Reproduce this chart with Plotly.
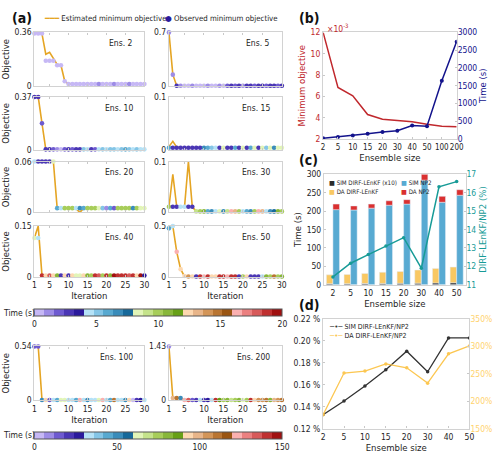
import plotly.graph_objects as go

W, H = 500, 461
FONT = "Liberation Sans Narrow, DejaVu Sans Condensed, Arial Narrow, Liberation Sans, sans-serif"
TXT = "#1e1e1e"
ORANGE = "#e5a524"

# ---------------- data: panel (a) ----------------
iterations = list(range(1, 31))

obs_e2 = [0.353, 0.353, 0.353, 0.170, 0.170, 0.170, 0.140, 0.140, 0.033, 0.015,
          0.015, 0.015, 0.015, 0.015, 0.015, 0.015, 0.015, 0.015, 0.015, 0.015,
          0.015, 0.015, 0.015, 0.015, 0.015, 0.015, 0.015, 0.015, 0.015, 0.015]
est_e2 = [0.353, 0.365, 0.350, 0.214, 0.227, 0.190, 0.146, 0.140, 0.033, 0.015,
          0.015, 0.015, 0.015, 0.015, 0.015, 0.015, 0.015, 0.015, 0.015, 0.015,
          0.015, 0.015, 0.015, 0.015, 0.015, 0.015, 0.015, 0.015, 0.015, 0.015]
time_e2 = [0.3, 0.3, 0.3, 0.3, 0.3, 0.3, 0.3, 0.3, 0.3, 0.3,
           0.3, 0.3, 0.3, 0.3, 0.3, 0.3, 0.3, 1.0, 0.3, 0.3,
           0.3, 1.0, 0.3, 0.3, 0.3, 1.0, 0.3, 0.3, 0.3, 0.3]

obs_e5 = [0.700, 0.150, 0.005, 0.005, 0.005, 0.005, 0.005, 0.005, 0.005, 0.005,
          0.005, 0.005, 0.005, 0.005, 0.005, 0.005, 0.005, 0.005, 0.005, 0.005,
          0.005, 0.005, 0.005, 0.005, 0.005, 0.005, 0.005, 0.005, 0.005, 0.005]
est_e5 = [0.700, 0.150, 0.005, 0.005, 0.005, 0.005, 0.005, 0.005, 0.005, 0.005,
          0.005, 0.005, 0.005, 0.005, 0.005, 0.005, 0.005, 0.005, 0.005, 0.005,
          0.005, 0.005, 0.005, 0.005, 0.005, 0.005, 0.005, 0.005, 0.005, 0.005]
time_e5 = [1.2, 1.2, 2.8, 1.2, 0.3, 0.3, 1.2, 0.3, 0.3, 0.3,
           1.2, 0.3, 0.3, 1.2, 0.3, 2.0, 2.8, 2.0, 2.8, 1.2,
           2.8, 2.8, 2.0, 2.8, 2.8, 2.0, 2.8, 2.8, 2.0, 2.8]

obs_e10 = [0.370, 0.370, 0.185, 0.003, 0.003, 0.003, 0.003, 0.003, 0.003, 0.003,
           0.003, 0.003, 0.003, 0.003, 0.003, 0.003, 0.003, 0.003, 0.003, 0.003,
           0.003, 0.003, 0.003, 0.003, 0.003, 0.003, 0.003, 0.003, 0.003, 0.003]
est_e10 = [0.370, 0.372, 0.185, 0.003, 0.003, 0.003, 0.003, 0.003, 0.003, 0.003,
           0.003, 0.003, 0.003, 0.003, 0.003, 0.003, 0.003, 0.003, 0.003, 0.003,
           0.003, 0.003, 0.003, 0.003, 0.003, 0.003, 0.003, 0.003, 0.003, 0.003]
time_e10 = [2.8, 2.8, 2.0, 2.8, 2.4, 2.0, 1.2, 0.4, 2.0, 2.8,
            2.0, 2.4, 2.8, 5.2, 4.4, 2.8, 2.0, 4.4, 5.2, 4.4,
            5.2, 5.2, 4.4, 5.2, 6.0, 5.2, 4.4, 5.2, 4.4, 4.4]

obs_e15 = [0.004, 0.004, 0.004, 0.004, 0.004, 0.004, 0.004, 0.004, 0.004, 0.004,
           0.004, 0.004, 0.004, 0.004, 0.004, 0.004, 0.004, 0.004, 0.004, 0.004,
           0.004, 0.004, 0.004, 0.004, 0.004, 0.004, 0.004, 0.004, 0.004, 0.004]
est_e15 = [0.006, 0.016, 0.005, 0.004, 0.004, 0.004, 0.004, 0.004, 0.004, 0.004,
           0.004, 0.004, 0.004, 0.004, 0.004, 0.004, 0.004, 0.004, 0.004, 0.004,
           0.004, 0.004, 0.004, 0.004, 0.004, 0.004, 0.004, 0.004, 0.004, 0.004]
time_e15 = [6.0, 2.4, 2.4, 2.4, 2.4, 2.4, 2.4, 2.4, 2.4, 6.8,
            6.0, 5.2, 4.4, 2.4, 8.4, 2.4, 2.4, 6.0, 2.8, 8.4,
            2.4, 6.0, 8.4, 2.4, 8.4, 5.2, 8.4, 6.8, 8.4, 8.4]

obs_e20 = [0.060, 0.060, 0.060, 0.060, 0.060, 0.060, 0.005, 0.005, 0.005, 0.005,
           0.005, 0.005, 0.005, 0.005, 0.005, 0.005, 0.005, 0.005, 0.005, 0.005,
           0.005, 0.005, 0.005, 0.005, 0.005, 0.005, 0.005, 0.005, 0.005, 0.005]
est_e20 = [0.060, 0.060, 0.060, 0.060, 0.060, 0.060, 0.005, 0.005, 0.005, 0.005,
           0.005, 0.004, 0.000, 0.005, 0.005, 0.005, 0.005, 0.005, 0.005, 0.005,
           0.005, 0.005, 0.005, 0.005, 0.005, 0.005, 0.005, 0.005, 0.005, 0.005]
time_e20 = [4.4, 2.8, 2.8, 2.8, 2.8, 8.4, 6.0, 4.4, 10.0, 10.0,
            10.0, 4.4, 6.8, 6.0, 10.0, 10.0, 10.0, 8.4, 5.2, 1.2,
            6.0, 2.0, 10.0, 10.0, 10.0, 10.0, 6.8, 10.0, 8.4, 8.4]

obs_e30 = [0.011, 0.011, 0.011, 0.011, 0.011, 0.011, 0.011, 0.002, 0.002, 0.002,
           0.002, 0.002, 0.002, 0.002, 0.002, 0.002, 0.002, 0.002, 0.002, 0.002,
           0.002, 0.002, 0.002, 0.002, 0.002, 0.002, 0.002, 0.002, 0.002, 0.002]
est_e30 = [0.011, 0.075, 0.011, 0.011, 0.011, 0.100, 0.011, 0.002, 0.002, 0.002,
           0.002, 0.002, 0.002, 0.002, 0.002, 0.002, 0.002, 0.002, 0.002, 0.002,
           0.002, 0.002, 0.002, 0.002, 0.002, 0.002, 0.002, 0.002, 0.002, 0.002]
time_e30 = [10.0, 2.4, 2.4, 4.4, 4.4, 2.8, 2.8, 9.2, 10.0, 10.8,
            6.0, 6.8, 4.4, 8.4, 6.8, 9.2, 16.4, 13.2, 10.0, 4.4,
            6.0, 6.8, 10.0, 16.4, 13.2, 4.4, 6.8, 7.6, 10.8, 10.0]

obs_e40 = [0.115, 0.115, 0.004, 0.004, 0.004, 0.004, 0.004, 0.004, 0.004, 0.004,
           0.004, 0.004, 0.004, 0.004, 0.004, 0.004, 0.004, 0.004, 0.004, 0.004,
           0.004, 0.004, 0.004, 0.004, 0.004, 0.004, 0.004, 0.004, 0.004, 0.004]
est_e40 = [0.115, 0.150, 0.004, 0.004, 0.004, 0.004, 0.004, 0.004, 0.004, 0.004,
           0.004, 0.004, 0.004, 0.004, 0.004, 0.004, 0.004, 0.004, 0.004, 0.004,
           0.004, 0.004, 0.004, 0.004, 0.004, 0.004, 0.004, 0.004, 0.004, 0.004]
time_e40 = [8.4, 4.4, 18.8, 12.4, 18.0, 12.4, 10.8, 2.4, 12.4, 2.8,
            12.4, 8.4, 8.4, 12.4, 10.8, 10.0, 18.8, 18.0, 10.0, 18.8,
            10.8, 19.6, 18.8, 18.8, 18.8, 18.0, 18.8, 12.4, 19.6, 3.6]

obs_e50 = [0.478, 0.500, 0.247, 0.077, 0.010, 0.004, 0.004, 0.004, 0.004, 0.004,
           0.004, 0.004, 0.004, 0.004, 0.004, 0.004, 0.004, 0.004, 0.004, 0.004,
           0.004, 0.004, 0.004, 0.004, 0.004, 0.004, 0.004, 0.004, 0.004, 0.004]
est_e50 = [0.478, 0.500, 0.247, 0.077, 0.005, 0.004, 0.004, 0.004, 0.004, 0.004,
           0.004, 0.004, 0.004, 0.004, 0.004, 0.004, 0.004, 0.004, 0.004, 0.004,
           0.004, 0.004, 0.004, 0.004, 0.004, 0.004, 0.004, 0.004, 0.004, 0.004]
time_e50 = [6.0, 4.4, 16.4, 12.4, 12.4, 14.0, 12.4, 2.4, 18.8, 16.4,
            18.8, 12.4, 12.4, 18.8, 18.8, 16.4, 18.8, 18.8, 2.8, 10.0,
            12.4, 2.4, 2.8, 2.4, 4.4, 10.8, 10.0, 14.8, 10.0, 10.8]

obs_e100 = [0.540, 0.540, 0.003, 0.003, 0.003, 0.003, 0.003, 0.003, 0.003, 0.003,
            0.003, 0.003, 0.003, 0.003, 0.003, 0.003, 0.003, 0.003, 0.003, 0.003,
            0.003, 0.003, 0.003, 0.003, 0.003, 0.003, 0.003, 0.003, 0.003, 0.003]
est_e100 = [0.540, 0.545, 0.003, 0.003, 0.003, 0.003, 0.003, 0.003, 0.003, 0.003,
            0.003, 0.003, 0.003, 0.003, 0.003, 0.003, 0.003, 0.003, 0.003, 0.003,
            0.003, 0.003, 0.003, 0.003, 0.003, 0.003, 0.003, 0.003, 0.003, 0.003]
time_e100 = [15, 15, 51, 93, 15, 33, 45, 63, 63, 33,
             33, 45, 123, 33, 51, 33, 33, 63, 123, 33,
             45, 111, 33, 33, 51, 93, 3, 21, 27, 33]

obs_e200 = [1.430, 0.060, 0.060, 0.060, 0.005, 0.005, 0.005, 0.005, 0.005, 0.005,
            0.005, 0.005, 0.005, 0.005, 0.005, 0.005, 0.005, 0.005, 0.005, 0.005,
            0.005, 0.005, 0.005, 0.005, 0.005, 0.005, 0.005, 0.005, 0.005, 0.005]
est_e200 = [1.430, 0.060, 0.060, 0.050, 0.005, 0.005, 0.005, 0.005, 0.005, 0.005,
            0.005, 0.005, 0.005, 0.005, 0.005, 0.005, 0.005, 0.005, 0.005, 0.005,
            0.005, 0.005, 0.005, 0.005, 0.005, 0.005, 0.005, 0.005, 0.005, 0.005]
time_e200 = [9, 99, 111, 51, 123, 135, 15, 21, 33, 21,
             27, 33, 141, 87, 75, 81, 69, 75, 81, 63,
             75, 141, 93, 105, 105, 111, 81, 99, 105, 111]

ens_names = ["Ens. 2", "Ens. 5", "Ens. 10", "Ens. 15", "Ens. 20",
             "Ens. 30", "Ens. 40", "Ens. 50", "Ens. 100", "Ens. 200"]
ymax_vals = [0.36, 0.7, 0.37, 0.1, 0.06, 0.1, 0.15, 0.5, 0.54, 1.43]
ymax_text = ["0.36", "0.7", "0.37", "0.1", "0.06", "0.1", "0.15", "0.5", "0.54", "1.43"]
iter_ticks = [1, 5, 10, 15, 20, 25, 30]
time_ticks_1 = [0, 5, 10, 15, 20]
time_ticks_2 = [0, 50, 100, 150]

# ---------------- data: panel (b) ----------------
ens_b = ["2", "5", "10", "15", "20", "30", "40", "50", "100", "200"]
min_obj_e3 = [12.0, 6.83, 6.06, 4.30, 3.85, 3.75, 3.63, 3.38, 3.20, 3.14]
time_b = [25, 60, 100, 150, 200, 235, 380, 360, 1640, 2740]

# ---------------- data: panel (c) ----------------
ens_c = ["2", "5", "10", "15", "20", "30", "40", "50"]
sim_dirf_x10 = [3.0, 3.0, 3.5, 3.8, 4.0, 4.5, 5.0, 5.5]
da_dirf = [24.0, 25.0, 27.5, 30.2, 32.0, 35.5, 39.5, 42.5]
sim_np2 = [204, 203, 208, 216, 219, 284, 224, 243]
da_np2 = [15, 11, 11, 12, 12, 16, 16, 15]
ratio_c = [11.43, 12.17, 12.64, 13.10, 13.56, 11.90, 16.32, 16.60]

# ---------------- data: panel (d) ----------------
ens_d = ["2", "5", "10", "15", "20", "30", "40", "50"]
sim_ratio = [0.1328, 0.1452, 0.1589, 0.1737, 0.1906, 0.1719, 0.2028, 0.2028]
da_ratio = [175.5, 251.5, 255.0, 268.0, 261.0, 233.0, 286.5, 301.0]

# ---------------- helpers ----------------
def fx(px):
    return px / W

def fy(py):
    return 1 - py / H

time_colors = ["#c6b8f5", "#9d8ce6", "#6e5ad0", "#4a36b5", "#2b1a9c",
               "#b5e2f7", "#84c5e6", "#58a9d0", "#3a8cba", "#17699a",
               "#e2f5b8", "#c5e38b", "#a7cd5a", "#88b73a", "#67a017",
               "#fdd8b0", "#e8b589", "#d39558", "#b97532", "#9a5512",
               "#fbb0b0", "#eb8080", "#d75a5a", "#bf3030", "#a01010"]
n = len(time_colors)
cscale = []
for i, c in enumerate(time_colors):
    cscale.append([i / n, c])
    cscale.append([(i + 1) / n, c])

TICK = 8.5
TITLE = 9.5
GLYPH = "font-family:DejaVu Sans"

def base_axis(**kw):
    d = dict(showline=True, linecolor="#d2d2d2", linewidth=1.3, mirror=True,
             ticks="inside", ticklen=2, tickcolor="#c8c8c8", showgrid=False,
             zeroline=False, tickfont=dict(size=TICK, color=TXT, family=FONT))
    d.update(kw)
    return d

def tfont(size=TITLE, color=TXT):
    return dict(size=size, color=color, family=FONT)

fig = go.Figure()
layout = {}
annotations = []

obs_all = [obs_e2, obs_e5, obs_e10, obs_e15, obs_e20, obs_e30, obs_e40, obs_e50, obs_e100, obs_e200]
est_all = [est_e2, est_e5, est_e10, est_e15, est_e20, est_e30, est_e40, est_e50, est_e100, est_e200]
time_all = [time_e2, time_e5, time_e10, time_e15, time_e20, time_e30, time_e40, time_e50, time_e100, time_e200]

cols = [(33, 145), (170, 285)]
rows = [(28, 83), (94, 148), (160, 212), (226, 278), (349, 404)]

for k in range(10):
    idx = k + 1
    col, row = k % 2, k // 2
    xs = "x" if idx == 1 else f"x{idx}"
    ys = "y" if idx == 1 else f"y{idx}"
    cax = "coloraxis" if k < 8 else "coloraxis2"
    fig.add_trace(go.Scatter(x=iterations, y=est_all[k], mode="lines",
                             line=dict(color=ORANGE, width=1.6),
                             xaxis=xs, yaxis=ys, showlegend=False, hoverinfo="skip"))
    fig.add_trace(go.Scatter(x=iterations, y=obs_all[k], mode="markers",
                             marker=dict(color=time_all[k], coloraxis=cax, size=4.6,
                                         line=dict(width=0)),
                             xaxis=xs, yaxis=ys, showlegend=False, cliponaxis=False))
    x0, x1 = cols[col]
    y0, y1 = rows[row]
    show_x = row >= 3
    xa = base_axis(domain=[fx(x0), fx(x1)], anchor=ys, range=[1, 30], tickangle=0,
                   tickvals=iter_ticks, showticklabels=show_x, mirror="ticks")
    if show_x:
        xa["title"] = dict(text="Iteration", font=tfont(), standoff=2)
    ya = base_axis(domain=[fy(y1), fy(y0)], anchor=xs, range=[0, ymax_vals[k]],
                   tickvals=[0, ymax_vals[k]], ticktext=["0", ymax_text[k]], ticks="")
    if col == 0:
        ya["title"] = dict(text="Objective", font=tfont(), standoff=3)
    layout["xaxis" if idx == 1 else f"xaxis{idx}"] = xa
    layout["yaxis" if idx == 1 else f"yaxis{idx}"] = ya
    annotations.append(dict(text=ens_names[k], x=fx(x1 - 10), y=fy(y0 + 4), xref="paper", yref="paper",
                            xanchor="right", yanchor="top", showarrow=False,
                            font=tfont(8.5)))

# ---------------- panel (b) ----------------
RED = "#c0282d"
NAVY = "#13138c"
fig.add_trace(go.Scatter(x=ens_b, y=min_obj_e3, mode="lines", line=dict(color=RED, width=1.5),
                         xaxis="x11", yaxis="y11", showlegend=False))
fig.add_trace(go.Scatter(x=ens_b, y=time_b, mode="lines+markers", line=dict(color=NAVY, width=1.5),
                         marker=dict(size=4, color=NAVY), xaxis="x11", yaxis="y12", showlegend=False))
layout["xaxis11"] = base_axis(domain=[fx(327), fx(463)], anchor="y11", type="category",
                              categoryorder="array", categoryarray=ens_b, range=[0, 9], tickangle=0,
                              tickfont=tfont(8),
                              title=dict(text="Ensemble size", font=tfont(), standoff=2))
layout["yaxis11"] = base_axis(domain=[fy(137), fy(28)], anchor="x11", range=[2, 12], dtick=2,
                              tickfont=tfont(TICK, RED),
                              title=dict(text="Minimum objective", font=tfont(TITLE, RED), standoff=3))
layout["yaxis12"] = base_axis(overlaying="y11", side="right", anchor="x11", range=[0, 3000], dtick=500,
                              showline=False, tickfont=tfont(TICK, NAVY),
                              title=dict(text="Time (s)", font=tfont(TITLE, NAVY), standoff=3))
annotations.append(dict(text="×10<sup>-3</sup>", x=fx(329), y=fy(23), xref="paper", yref="paper",
                        xanchor="left", yanchor="middle", showarrow=False,
                        font=tfont(8.5, RED)))

# ---------------- panel (c) ----------------
C_BLACK, C_YEL, C_BLUE, C_RED, TEAL = "#2b2b2b", "#f9c862", "#58aad2", "#da3030", "#179b97"
fig.add_trace(go.Bar(x=ens_c, y=sim_dirf_x10, offsetgroup="dirf", marker_color=C_BLACK,
                     name="SIM DIRF-LEnKF (x10)", xaxis="x12", yaxis="y13", showlegend=False))
fig.add_trace(go.Bar(x=ens_c, y=da_dirf, base=sim_dirf_x10, offsetgroup="dirf", marker_color=C_YEL,
                     name="DA DIRF-LEnKF", xaxis="x12", yaxis="y13", showlegend=False))
fig.add_trace(go.Bar(x=ens_c, y=sim_np2, offsetgroup="np2", marker_color=C_BLUE,
                     name="SIM NP2", xaxis="x12", yaxis="y13", showlegend=False))
fig.add_trace(go.Bar(x=ens_c, y=da_np2, base=sim_np2, offsetgroup="np2", marker_color=C_RED,
                     name="DA NP2", xaxis="x12", yaxis="y13", showlegend=False))
fig.add_trace(go.Scatter(x=ens_c, y=ratio_c, mode="lines+markers", line=dict(color=TEAL, width=1.5),
                         marker=dict(size=3.5, color=TEAL), xaxis="x12", yaxis="y14", showlegend=False))
layout["xaxis12"] = base_axis(domain=[fx(328), fx(472)], anchor="y13", type="category",
                              categoryorder="array", categoryarray=ens_c, range=[-0.5, 7.5], ticks="",
                              tickangle=0,
                              title=dict(text="Ensemble size", font=tfont(), standoff=2))
layout["yaxis13"] = base_axis(domain=[fy(286), fy(173)], anchor="x12", range=[0, 300], dtick=50,
                              title=dict(text="Time (s)", font=tfont(), standoff=3))
layout["yaxis14"] = base_axis(overlaying="y13", side="right", anchor="x12", range=[11, 17], dtick=1,
                              showline=False, tickfont=tfont(TICK, TEAL),
                              title=dict(text="DIRF-LEnKF/NP2 (%)", font=tfont(TITLE, TEAL), standoff=3))
leg_c = [("SIM DIRF-LEnKF (x10)", C_BLACK, 331, 181.5), ("SIM NP2", C_BLUE, 404, 181.5),
         ("DA DIRF-LEnKF", C_YEL, 331, 190.5), ("DA NP2", C_RED, 404, 190.5)]
for t, c, lx, ly in leg_c:
    annotations.append(dict(text=f"<span style='color:{c};{GLYPH}'>■</span> {t}", x=fx(lx), y=fy(ly),
                            xref="paper", yref="paper", xanchor="left", yanchor="middle",
                            showarrow=False, font=tfont(6.2)))

# ---------------- panel (d) ----------------
D_BLACK, D_YEL = "#333333", "#fcc752"
fig.add_trace(go.Scatter(x=ens_d, y=sim_ratio, mode="lines+markers", line=dict(color=D_BLACK, width=1.3),
                         marker=dict(size=3.5, color=D_BLACK), xaxis="x13", yaxis="y15", showlegend=False))
fig.add_trace(go.Scatter(x=ens_d, y=da_ratio, mode="lines+markers", line=dict(color=D_YEL, width=1.3),
                         marker=dict(size=3.5, color=D_YEL), xaxis="x13", yaxis="y16", showlegend=False))
left_d_ticks = [0.12, 0.14, 0.16, 0.18, 0.20, 0.22]
layout["xaxis13"] = base_axis(domain=[fx(327), fx(476)], anchor="y15", type="category",
                              categoryorder="array", categoryarray=ens_d, range=[0, 7], tickangle=0,
                              title=dict(text="Ensemble size", font=tfont(), standoff=2))
layout["yaxis15"] = base_axis(domain=[fy(433), fy(321)], anchor="x13", range=[0.12, 0.22],
                              tickvals=left_d_ticks, ticktext=[f"{v:.2f} %" for v in left_d_ticks])
layout["yaxis16"] = base_axis(overlaying="y15", side="right", anchor="x13", range=[150, 350], dtick=50,
                              ticksuffix="%", showline=False, tickfont=tfont(TICK, "#ffd36e"))
for t, c, ly in [("SIM DIRF-LEnKF/NP2", D_BLACK, 329), ("DA DIRF-LEnKF/NP2", D_YEL, 338)]:
    annotations.append(dict(text=f"<span style='color:{c};{GLYPH}'>─•─</span> {t}", x=fx(331), y=fy(ly),
                            xref="paper", yref="paper", xanchor="left", yanchor="middle",
                            showarrow=False, font=tfont(7)))

# ---------------- legend (a), panel labels, colorbar label ----------------
annotations.append(dict(text=f"<span style='color:{ORANGE};{GLYPH}'>━━━</span> Estimated minimum objective",
                        x=fx(41), y=fy(14), xref="paper", yref="paper", xanchor="left", yanchor="middle",
                        showarrow=False, font=tfont(7.8)))
annotations.append(dict(text=f"<span style='color:#2b1a9c;{GLYPH}'>●</span> Observed minimum objective",
                        x=fx(164), y=fy(14), xref="paper", yref="paper", xanchor="left", yanchor="middle",
                        showarrow=False, font=tfont(7.8)))
for t, lx, ly in [("(a)", 8, 13), ("(b)", 300, 13), ("(c)", 300, 158), ("(d)", 300, 307)]:
    annotations.append(dict(text=f"<b>{t}</b>", x=fx(lx), y=fy(ly), xref="paper", yref="paper",
                            xanchor="left", yanchor="middle", showarrow=False,
                            font=tfont(14, "#111")))
for ly in [314.5, 439.5]:
    annotations.append(dict(text="Time (s)", x=fx(17), y=fy(ly), xref="paper", yref="paper",
                            xanchor="center", yanchor="middle", showarrow=False,
                            font=tfont(8.5)))

def cbar(y_top, ticks):
    return dict(orientation="h", x=fx(33), xanchor="left", y=fy(y_top), yanchor="top",
                len=253 / W, lenmode="fraction", thickness=7, xpad=0, ypad=0,
                outlinewidth=1, outlinecolor="#555", tickvals=ticks, ticks="",
                tickfont=tfont(TICK))

layout["coloraxis"] = dict(colorscale=cscale, cmin=0, cmax=20, colorbar=cbar(311, time_ticks_1))
layout["coloraxis2"] = dict(colorscale=cscale, cmin=0, cmax=150, colorbar=cbar(436, time_ticks_2))

fig.update_layout(**layout)
fig.update_layout(width=W, height=H, margin=dict(l=0, r=0, t=0, b=0), autosize=False,
                  paper_bgcolor="white", plot_bgcolor="white",
                  font=dict(family=FONT, size=TICK, color=TXT),
                  barmode="group", bargap=0.26, bargroupgap=0,
                  annotations=annotations, showlegend=False)
fig.write_html("out.html")
